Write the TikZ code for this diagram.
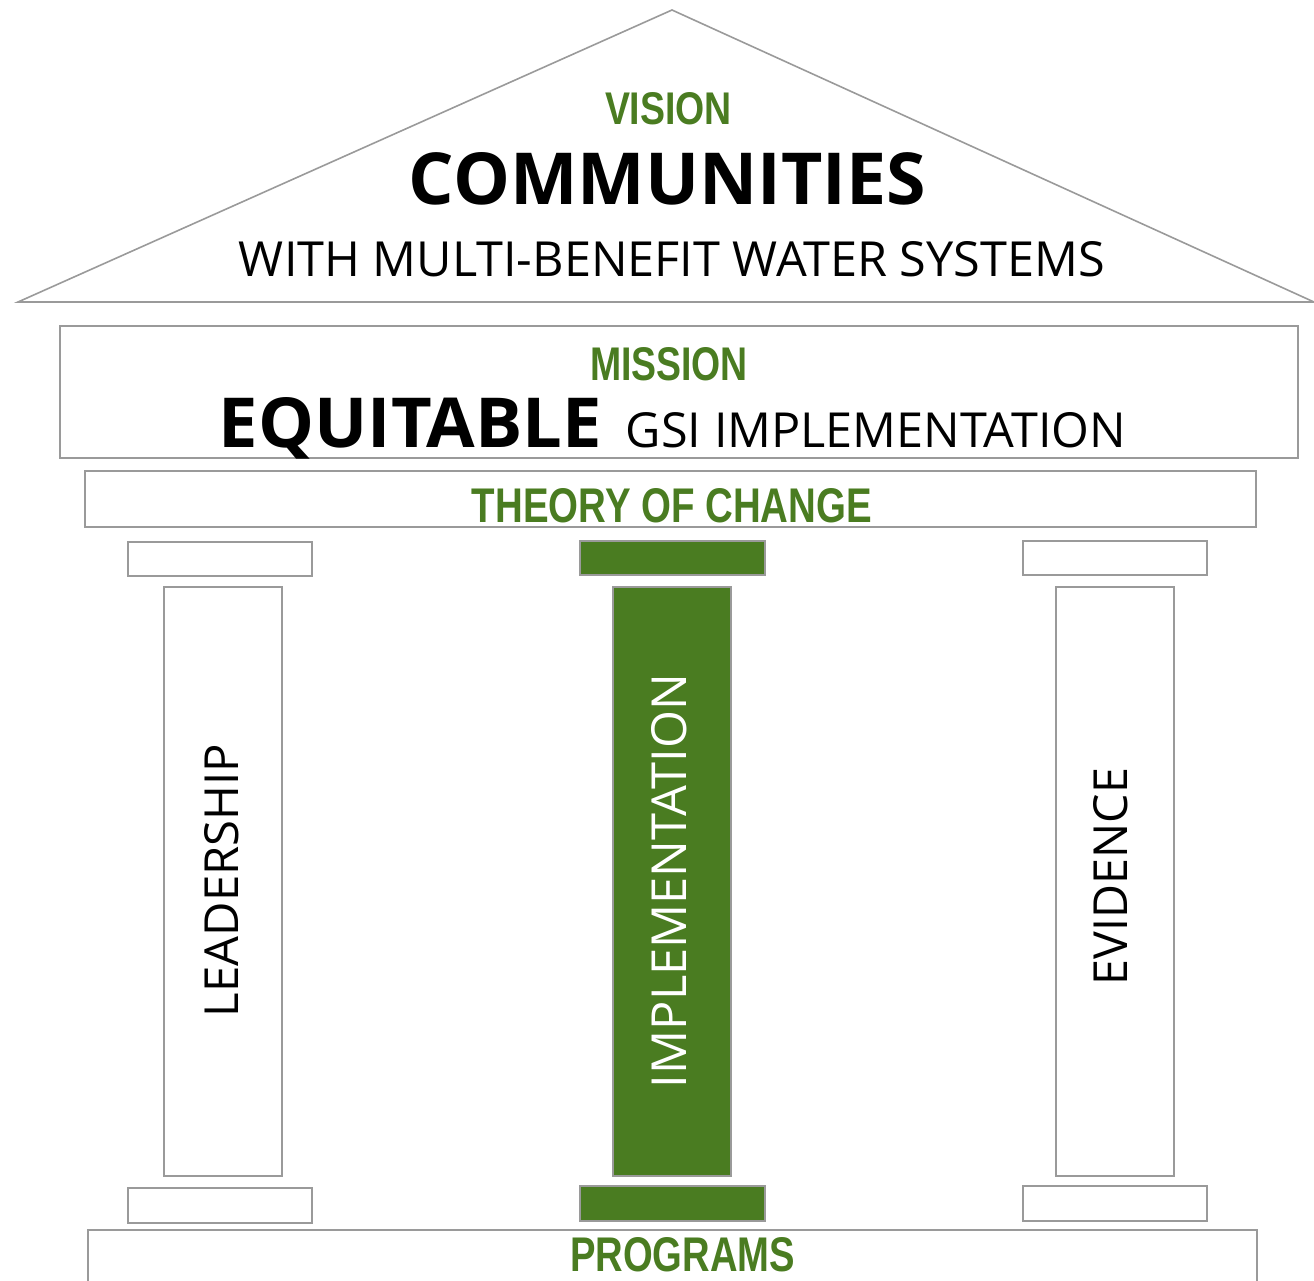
\documentclass[tikz,border=0pt]{standalone}
\usepackage{fontspec}
\setmainfont{Open Sans}
\newfontfamily\narrowfont{Liberation Sans}
\usepackage{graphicx}
\definecolor{pgreen}{HTML}{4A7C21}
\definecolor{lgray}{HTML}{9A9A9A}
\tikzset{
  outline/.style={draw=lgray, line width=0.8pt, fill=white},
  greenblock/.style={draw=lgray, line width=0.8pt, fill=pgreen},
  lbl/.style={inner sep=0pt, outer sep=0pt, anchor=base},
  vlbl/.style={inner sep=0pt, outer sep=0pt, anchor=center, rotate=90},
}
\newcommand{\fit}[3]{\resizebox{#1pt}{#2pt}{#3}}
\begin{document}
\begin{tikzpicture}[x=0.5pt,y=-0.5pt]
\useasboundingbox (0,0) rectangle (1314,1281);
% roof
\draw[lgray, line width=0.8pt, line join=miter] (18,302) -- (672,10) -- (1314,302) -- cycle;
% mission and theory
\draw[outline] (60,326) rectangle (1298,458);
\draw[outline] (85,471) rectangle (1256,527);
% pillars
\draw[outline] (128,542) rectangle (312,576);
\draw[outline] (164,587) rectangle (282,1176);
\draw[outline] (128,1188) rectangle (312,1223);
\draw[greenblock] (580,541) rectangle (765,575);
\draw[greenblock] (613,587) rectangle (731,1176);
\draw[greenblock] (580,1186) rectangle (765,1221);
\draw[outline] (1023,541) rectangle (1207,575);
\draw[outline] (1056,587) rectangle (1174,1176);
\draw[outline] (1023,1186) rectangle (1207,1221);
% programs
\draw[lgray, line width=0.8pt] (88,1285) -- (88,1230) -- (1257,1230) -- (1257,1285);
% texts
\node[lbl, text=pgreen] (vision) at (668.5,124) {\fit{63.5}{16}{\narrowfont\bfseries VISION}};
\node[lbl] (communities) at (667.5,204) {\fit{258.5}{26}{\bfseries COMMUNITIES}};
\node[lbl] (with) at (672,276) {\fit{433}{17.5}{WITH MULTI-BENEFIT WATER SYSTEMS}};
\node[lbl, text=pgreen] (mission) at (669,380) {\fit{79}{16.5}{\narrowfont\bfseries MISSION}};
\node[lbl] (equitable) at (410.5,447) {\fit{191.5}{25}{\bfseries EQUITABLE}};
\node[lbl] (gsi) at (876,447) {\fit{250}{17.5}{GSI IMPLEMENTATION}};
\node[lbl, text=pgreen] (theory) at (672,522) {\fit{200}{17}{\narrowfont\bfseries THEORY OF CHANGE}};
\node[lbl, text=pgreen] (programs) at (682.5,1271) {\fit{112.5}{17}{\narrowfont\bfseries PROGRAMS}};
\node[vlbl] (leadership) at (222,880.5) {\fit{136.5}{17}{LEADERSHIP}};
\node[vlbl, text=white] (implementation) at (669.5,881) {\fit{207}{17.5}{IMPLEMENTATION}};
\node[vlbl] (evidence) at (1111,876.5) {\fit{108.5}{17}{EVIDENCE}};
\end{tikzpicture}
\end{document}
